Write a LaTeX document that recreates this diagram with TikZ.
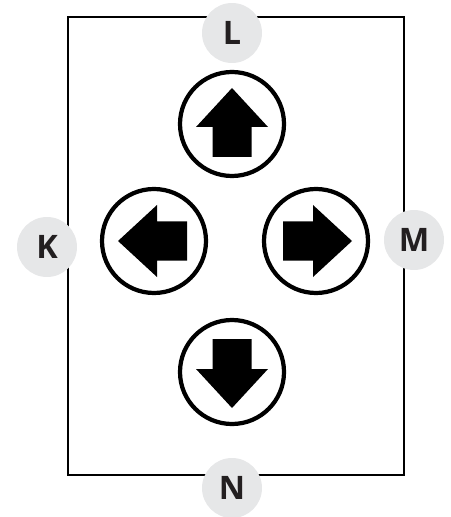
\documentclass[tikz,border=0pt]{standalone}
\usepackage{fontspec}
\setmainfont{Open Sans}
\usetikzlibrary{positioning}
\definecolor{darkgray}{HTML}{231F20}
\definecolor{lightgray}{HTML}{E6E7E8}

\begin{document}
\begin{tikzpicture}[x=0.025cm,y=-0.025cm,
    side/.style={circle,fill=lightgray,minimum size=60*0.025cm,inner sep=0pt,
      font=\fontsize{23}{23}\selectfont\bfseries,text=darkgray},
    key/.style={circle,draw=black,line width=3pt,minimum size=104*0.025cm,inner sep=0pt},
    keyarrow/.style={fill=black}]
        \useasboundingbox (0,0) rectangle (450,517);
        % Draw the frame
        \draw[black,line width=1.3pt] (68,17) rectangle (404,475);
        % side labels
        \node[side] (L) at (232,33) {L};
        \node[side] (K) at (47,247) {K};
        \node[side] (M) at (414,240) {M};
        \node[side] (N) at (232,488) {N};
        % direction keys
        \node[key] (up) at (232,124) {};
        \node[key] (left) at (154,241) {};
        \node[key] (right) at (316,241) {};
        \node[key] (down) at (232,372) {};
        % the arrows inside the keys
        \foreach \k/\r in {up/0,left/90,right/-90,down/180}
          \fill[keyarrow,shift={(\k.center)},rotate=\r]
            (0,-36) -- (36,3) -- (19.5,3) -- (19.5,33) -- (-19.5,33) -- (-19.5,3) -- (-36,3) -- cycle;
\end{tikzpicture}
\end{document}
